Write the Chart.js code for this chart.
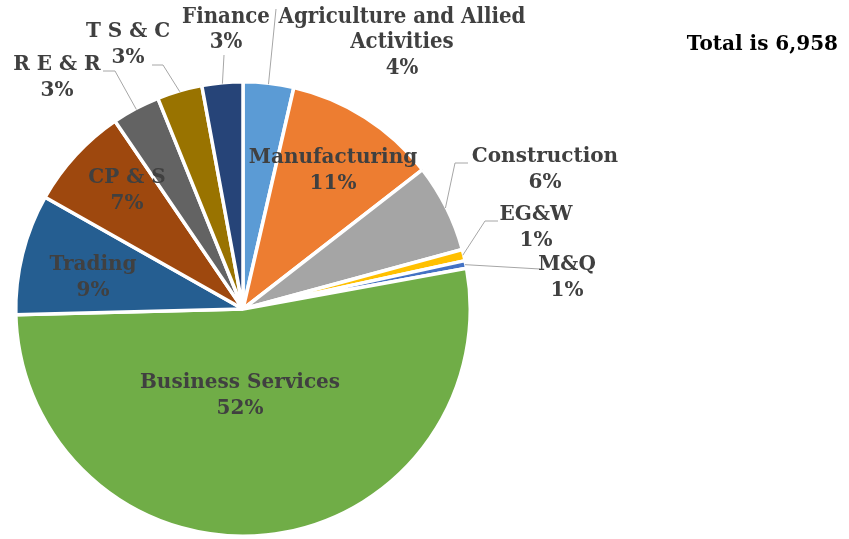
<!DOCTYPE html>
<html>
<head>
<meta charset="utf-8">
<script src="https://cdn.jsdelivr.net/npm/chart.js@4.4.1/dist/chart.umd.min.js"></script>
<style>
  html, body { margin: 0; padding: 0; background: #ffffff; }
  #wrap { width: 849px; height: 539px; position: relative; }
</style>
</head>
<body>
<div id="wrap"><canvas id="pie" width="849" height="539"></canvas></div>
<script>
// sectors, clockwise from 12 o'clock
const sectors = [
  "Agriculture and Allied Activities", "Manufacturing", "Construction", "EG&W", "M&Q",
  "Business Services", "Trading", "CP & S", "R E & R", "T S & C", "Finance"
];
const counts = [250, 758, 438, 56, 38, 3650, 598, 508, 237, 223, 202];
const sliceColors = [
  "#5B9BD5", "#ED7D31", "#A5A5A5", "#FFC000", "#4472C4",
  "#70AD47", "#255E91", "#9E480E", "#636363", "#997300", "#264478"
];

// label placement (lines of the category name, anchor, leader line points)
const labelLayout = [
  { lines: ["Agriculture and Allied", "Activities"], x: 402, y: 17, narrow: true, leader: [[276, 9]] },
  { lines: ["Manufacturing"], x: 333, y: 158 },
  { lines: ["Construction"], x: 545, y: 157, leader: [[468, 163], [455, 163]] },
  { lines: ["EG&W"], x: 536, y: 215, leader: [[498, 221], [485, 221]] },
  { lines: ["M&Q"], x: 567, y: 265, leader: [[540, 269]] },
  { lines: ["Business Services"], x: 240, y: 383 },
  { lines: ["Trading"], x: 93, y: 265 },
  { lines: ["CP & S"], x: 127, y: 178 },
  { lines: ["R E & R"], x: 57, y: 65, leader: [[103, 71], [115, 71]] },
  { lines: ["T S & C"], x: 128, y: 32, leader: [[152, 65], [163, 65]] },
  { lines: ["Finance"], x: 226, y: 17, narrow: true, leader: [[224, 55]] }
];

const LINE_H = 25.5;
const FONT = "bold 20px 'DejaVu Serif', serif";
const FONT_NARROW = "bold 22px 'DejaVu Serif Condensed', 'Liberation Serif', serif";

const total = counts.reduce((a, b) => a + b, 0);

const sliceLabels = {
  id: "sliceLabels",
  afterDatasetsDraw(chart) {
    const ctx = chart.ctx;
    const arcs = chart.getDatasetMeta(0).data;
    ctx.save();

    // leader lines
    ctx.strokeStyle = "#A6A6A6";
    ctx.lineWidth = 1;
    labelLayout.forEach((lab, i) => {
      if (!lab.leader) return;
      const a = arcs[i];
      const mid = (a.startAngle + a.endAngle) / 2;
      const ex = a.x + Math.cos(mid) * (a.outerRadius - 1);
      const ey = a.y + Math.sin(mid) * (a.outerRadius - 1);
      ctx.beginPath();
      ctx.moveTo(lab.leader[0][0], lab.leader[0][1]);
      for (let k = 1; k < lab.leader.length; k++) ctx.lineTo(lab.leader[k][0], lab.leader[k][1]);
      ctx.lineTo(ex, ey);
      ctx.stroke();
    });

    // texts
    ctx.fillStyle = "#404040";
    ctx.textAlign = "center";
    ctx.textBaseline = "middle";
    labelLayout.forEach((lab, i) => {
      const pct = Math.round(counts[i] / total * 100) + "%";
      const all = lab.lines.concat([pct]);
      ctx.font = lab.narrow ? FONT_NARROW : FONT;
      all.forEach((t, k) => ctx.fillText(t, lab.x, lab.y + k * LINE_H));
    });

    // total
    ctx.fillStyle = "#000000";
    ctx.textAlign = "right";
    ctx.font = "bold 20px 'DejaVu Serif', serif";
    ctx.fillText("Total is " + total.toLocaleString("en-US"), 838, 45);
    ctx.restore();
  }
};

new Chart(document.getElementById("pie").getContext("2d"), {
  type: "pie",
  data: {
    labels: sectors,
    datasets: [{
      data: counts,
      backgroundColor: sliceColors,
      borderColor: "#ffffff",
      borderWidth: 3.5
    }]
  },
  options: {
    responsive: false,
    animation: false,
    layout: { padding: { left: 14, right: 377, top: 80, bottom: 1 } },
    plugins: {
      legend: { display: false },
      tooltip: { enabled: false }
    }
  },
  plugins: [sliceLabels]
});
</script>
</body>
</html>
